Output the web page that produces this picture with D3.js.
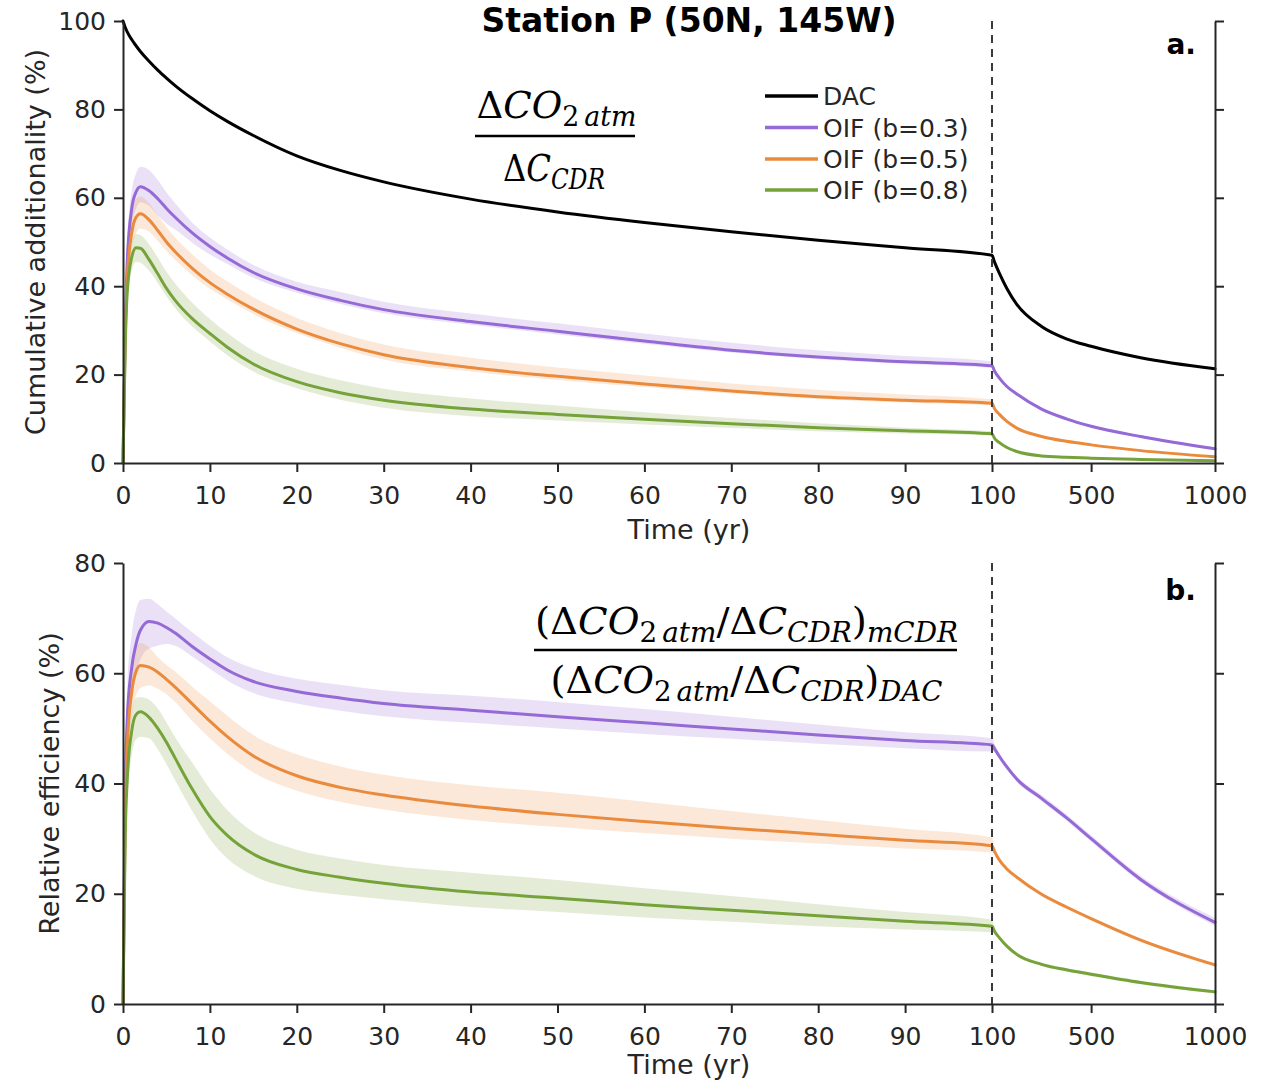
<!DOCTYPE html>
<html>
<head>
<meta charset="utf-8">
<script src="https://cdn.jsdelivr.net/npm/d3@7"></script>
<style>
  html, body { margin: 0; padding: 0; background: #fff; }
  svg { display: block; }
</style>
</head>
<body>
<svg id="chart" width="1263" height="1081"></svg>
<script>
// Time axis (years): dense at the start, linear to 100 yr, then a compressed 100–1000 yr segment
const years = [0, 0.25, 0.5, 1, 1.5, 2, 3, 4, 5, 6, 8, 10, 12, 15, 20, 25, 30, 40, 50, 60, 70, 80, 90, 100, 110, 130, 160, 200, 300, 400, 500, 700, 1000];
const xTickValues = [0, 10, 20, 30, 40, 50, 60, 70, 80, 90, 100, 500, 1000];
const yTicksA = [0, 20, 40, 60, 80, 100];
const yTicksB = [0, 20, 40, 60, 80];
const seriesNames = ["DAC", "OIF (b=0.3)", "OIF (b=0.5)", "OIF (b=0.8)"];

// Panel a: cumulative additionality (%)
const dacA = [100, 98.6, 97.5, 95.8, 94.4, 93.1, 90.9, 88.9, 87.1, 85.4, 82.4, 79.7, 77.3, 74.1, 69.5, 66.2, 63.6, 59.7, 56.8, 54.4, 52.3, 50.4, 48.7, 47.0, 45.5, 42.9, 39.5, 35.9, 30.9, 28.1, 26.4, 23.8, 21.3];

const oif03A   = [0, 30, 46, 57.5, 61.3, 62.5, 61.6, 59.8, 57.6, 55.6, 52.0, 49.0, 46.4, 43.1, 39.4, 36.8, 34.7, 32.0, 29.8, 27.6, 25.5, 24.0, 22.9, 22.0, 20.8, 19.2, 17.3, 15.6, 12.2, 10.0, 8.3, 6.0, 3.2];
const oif03ALo = [0, 27, 42, 53.5, 57.5, 59, 58.2, 56, 54.2, 52.8, 49.8, 47.2, 45, 41.9, 38.5, 36.0, 33.9, 31.3, 29.1, 27.0, 25.0, 23.5, 22.4, 21.5, 20.4, 18.9, 17.0, 15.3, 11.9, 9.7, 8.0, 5.7, 2.9];
const oif03AHi = [0, 33, 50, 61.5, 65.5, 67, 66.3, 64, 61.2, 58.8, 54.3, 51, 48.3, 44.8, 41.0, 38.7, 36.5, 33.8, 31.6, 29.3, 27.2, 25.5, 24.2, 23.0, 21.5, 19.7, 17.7, 16.0, 12.6, 10.3, 8.6, 6.3, 3.5];

const oif05A   = [0, 28, 42, 52, 55.6, 56.4, 55.0, 52.6, 50.0, 47.8, 44.0, 40.8, 38.2, 34.8, 30.3, 27.0, 24.5, 21.6, 19.6, 17.9, 16.3, 15.0, 14.2, 13.5, 12.3, 11.0, 9.4, 7.9, 6.0, 4.9, 4.1, 2.8, 1.4];
const oif05ALo = [0, 25.5, 39, 48.5, 52, 53, 52.3, 50.3, 48, 46, 42.4, 39.4, 37.0, 33.7, 29.4, 26.1, 23.4, 20.7, 18.8, 17.2, 15.7, 14.5, 13.7, 13.0, 11.9, 10.7, 9.1, 7.6, 5.8, 4.7, 3.9, 2.6, 1.2];
const oif05AHi = [0, 31, 46, 56.5, 59.8, 60.3, 58.8, 56, 53.4, 51, 47.2, 43.8, 41.1, 37.5, 32.8, 29.4, 26.8, 23.8, 21.6, 19.8, 18.0, 16.6, 15.5, 14.4, 12.9, 11.4, 9.8, 8.2, 6.3, 5.2, 4.3, 3.0, 1.6];

const oif08A   = [0, 26, 39, 46.5, 48.7, 48.6, 46.0, 42.8, 39.5, 36.8, 32.6, 29.3, 26.2, 22.4, 18.4, 15.9, 14.2, 12.2, 11.0, 9.9, 8.9, 8.0, 7.3, 6.6, 5.6, 4.6, 3.5, 2.6, 1.6, 1.3, 1.1, 0.8, 0.5];
const oif08ALo = [0, 24, 36.5, 43.5, 45.5, 45.3, 43.5, 40.7, 37.7, 35.0, 30.8, 27.5, 24.4, 20.7, 16.9, 14.3, 12.5, 10.6, 9.6, 8.7, 7.9, 7.2, 6.7, 6.2, 5.3, 4.4, 3.3, 2.4, 1.4, 1.1, 0.9, 0.6, 0.3];
const oif08AHi = [0, 28.5, 42, 50, 51.8, 51.6, 49.5, 46.5, 43.3, 40.6, 36.2, 32.6, 29.4, 25.4, 21.3, 18.7, 16.8, 14.6, 13.0, 11.5, 10.2, 9.0, 8.0, 7.2, 6.0, 4.9, 3.8, 2.8, 1.8, 1.5, 1.3, 1.0, 0.7];

// Panel b: efficiency relative to DAC (%)
const oif03B   = [0, 38, 52, 61, 65.3, 67.8, 69.4, 69.1, 68.3, 67.3, 64.8, 62.6, 60.6, 58.5, 56.7, 55.5, 54.5, 53.3, 52.1, 51.0, 49.9, 48.8, 47.8, 47.0, 46.3, 44.9, 43.0, 40.8, 37.3, 33.8, 30.0, 22.6, 14.8];
const oif03BLo = [0, 34, 47, 56, 60, 62.5, 64.5, 65, 65.3, 65, 63, 60.8, 58.7, 56.4, 54.5, 53.2, 52.2, 51.0, 50.0, 49.0, 48.1, 47.2, 46.4, 45.8, 45.8, 44.4, 42.5, 40.3, 36.8, 33.3, 29.5, 22.1, 14.2];
const oif03BHi = [0, 42, 58, 67, 71.5, 73.3, 73.5, 72.5, 71.2, 70.0, 67.4, 65.0, 62.9, 60.9, 59.0, 57.9, 56.9, 55.9, 54.8, 53.5, 52.1, 50.7, 49.3, 48.2, 47.2, 45.5, 43.5, 41.3, 37.9, 34.4, 30.6, 23.2, 15.6];

const oif05B   = [0, 34, 47, 56.5, 60.3, 61.4, 61.1, 60.2, 58.9, 57.5, 54.4, 51.3, 48.5, 45.0, 41.4, 39.3, 37.9, 35.9, 34.4, 33.1, 31.9, 30.8, 29.7, 28.7, 27.7, 26.1, 24.5, 23.0, 19.9, 17.6, 15.5, 11.6, 7.1];
const oif05BLo = [0, 31, 43, 52, 56, 57.3, 57.8, 57.2, 56.2, 54.8, 51.3, 48.2, 45.4, 42.0, 38.7, 36.7, 35.3, 33.4, 32.1, 31.0, 30.0, 29.1, 28.2, 27.5, 27.2, 25.8, 24.2, 22.7, 19.6, 17.3, 15.2, 11.3, 6.8];
const oif05BHi = [0, 37, 52, 62, 65, 65.5, 64.7, 62.9, 61.5, 60.3, 57.5, 54.9, 52.3, 48.8, 45.3, 43.1, 41.6, 39.7, 38.3, 36.7, 35.0, 33.4, 31.8, 30.2, 28.4, 26.5, 24.8, 23.3, 20.2, 17.9, 15.8, 11.9, 7.4];

const oif08B   = [0, 30, 41, 49.5, 52.5, 53.0, 52.0, 50.0, 47.5, 44.6, 38.9, 34.0, 30.6, 27.2, 24.4, 23.0, 21.9, 20.3, 19.2, 18.0, 17.0, 16.0, 15.0, 14.1, 13.2, 12.0, 10.5, 9.0, 7.2, 6.2, 5.4, 3.9, 2.2];
const oif08BLo = [0, 27, 37, 45, 48, 48.5, 48.2, 46.2, 43.5, 40.6, 34.9, 29.9, 26.4, 23.3, 20.9, 19.8, 19.0, 17.6, 16.7, 15.7, 14.9, 14.1, 13.5, 13.0, 12.8, 11.7, 10.2, 8.7, 6.9, 5.9, 5.1, 3.6, 1.9];
const oif08BHi = [0, 33, 45, 53, 55.5, 55.7, 55.2, 53.6, 51.1, 48.4, 43.7, 39.0, 35.2, 31.2, 28.0, 26.4, 25.2, 23.8, 22.5, 21.0, 19.6, 18.1, 16.7, 15.3, 13.8, 12.3, 10.8, 9.3, 7.5, 6.5, 5.7, 4.2, 2.5];

// ---- styling ----
const COLORS = { dac: "#000000", b03: "#9569d6", b05: "#ea8a3d", b08: "#76a23a" };
const AXIS_COLOR = "#262626";
const SANS = "DejaVu Sans, Verdana, sans-serif";
const SERIF = "DejaVu Serif, serif";

const svg = d3.select("#chart");

// piecewise-linear time scale: 0–100 yr wide, 100–1000 yr narrow
const x = d3.scaleLinear().domain([0, 100, 1000]).range([123, 992, 1215]);
const yA = d3.scaleLinear().domain([0, 100]).range([463, 21]);
const yB = d3.scaleLinear().domain([0, 80]).range([1004, 563]);

function drawPanel(y, ticks, bands, lines, xLabelY, yLabel, yLabelX) {
  const g = svg.append("g");
  const [y0, y1] = y.range();

  // uncertainty bands
  bands.forEach(b => {
    const area = d3.area()
      .x((d, i) => x(years[i]))
      .y0((d, i) => y(b.lo[i]))
      .y1((d, i) => y(b.hi[i]))
      .curve(d3.curveMonotoneX);
    g.append("path").datum(b.lo).attr("d", area)
      .attr("fill", b.color).attr("fill-opacity", 0.2).attr("stroke", "none");
  });

  // central lines
  lines.forEach(l => {
    const line = d3.line()
      .x((d, i) => x(years[i]))
      .y(d => y(d))
      .curve(d3.curveMonotoneX);
    g.append("path").datum(l.values).attr("d", line)
      .attr("fill", "none").attr("stroke", l.color)
      .attr("stroke-width", 3).attr("stroke-linejoin", "round").attr("stroke-linecap", "round");
  });

  // 100-yr marker
  g.append("line")
    .attr("x1", x(100)).attr("x2", x(100)).attr("y1", y1).attr("y2", y0)
    .attr("stroke", "#3a3a3a").attr("stroke-width", 2).attr("stroke-dasharray", "8,6");

  // axes
  const xAxis = d3.axisBottom(x).tickValues(xTickValues).tickFormat(d3.format("d"))
    .tickSize(9).tickSizeOuter(0).tickPadding(14);
  const yAxisL = d3.axisLeft(y).tickValues(ticks).tickFormat(d3.format("d"))
    .tickSize(9).tickSizeOuter(0).tickPadding(8);
  const yAxisR = d3.axisRight(y).tickValues(ticks).tickFormat("")
    .tickSize(9).tickSizeOuter(0);

  const gx = g.append("g").attr("transform", `translate(0,${y0})`).call(xAxis);
  const gl = g.append("g").attr("transform", `translate(${x.range()[0]},0)`).call(yAxisL);
  const gr = g.append("g").attr("transform", `translate(${x.range()[2]},0)`).call(yAxisR);
  [gx, gl, gr].forEach(a => {
    a.attr("font-family", SANS).attr("font-size", 25);
    a.selectAll("path, line").attr("stroke", AXIS_COLOR).attr("stroke-width", 2);
    a.selectAll("text").attr("fill", AXIS_COLOR);
  });

  // axis titles
  g.append("text").attr("x", 689).attr("y", xLabelY)
    .attr("text-anchor", "middle").attr("font-family", SANS).attr("font-size", 27)
    .attr("fill", AXIS_COLOR).text("Time (yr)");
  const yMid = (y0 + y1) / 2;
  g.append("text")
    .attr("transform", `translate(${yLabelX},${yMid}) rotate(-90)`)
    .attr("text-anchor", "middle").attr("font-family", SANS).attr("font-size", 27)
    .attr("fill", AXIS_COLOR).text(yLabel);
  return g;
}

drawPanel(yA, yTicksA,
  [
    { lo: oif03ALo, hi: oif03AHi, color: COLORS.b03 },
    { lo: oif05ALo, hi: oif05AHi, color: COLORS.b05 },
    { lo: oif08ALo, hi: oif08AHi, color: COLORS.b08 }
  ],
  [
    { values: dacA, color: COLORS.dac },
    { values: oif03A, color: COLORS.b03 },
    { values: oif05A, color: COLORS.b05 },
    { values: oif08A, color: COLORS.b08 }
  ],
  539, "Cumulative additionality (%)", 45);

drawPanel(yB, yTicksB,
  [
    { lo: oif03BLo, hi: oif03BHi, color: COLORS.b03 },
    { lo: oif05BLo, hi: oif05BHi, color: COLORS.b05 },
    { lo: oif08BLo, hi: oif08BHi, color: COLORS.b08 }
  ],
  [
    { values: oif03B, color: COLORS.b03 },
    { values: oif05B, color: COLORS.b05 },
    { values: oif08B, color: COLORS.b08 }
  ],
  1074, "Relative efficiency (%)", 59);

// title and panel tags
svg.append("text").attr("x", 689).attr("y", 32).attr("text-anchor", "middle")
  .attr("font-family", SANS).attr("font-weight", "bold").attr("font-size", 33)
  .attr("fill", "#000").text("Station P (50N, 145W)");
svg.append("text").attr("x", 1196).attr("y", 54).attr("text-anchor", "end")
  .attr("font-family", SANS).attr("font-weight", "bold").attr("font-size", 28)
  .attr("fill", "#000").text("a.");
svg.append("text").attr("x", 1196).attr("y", 600).attr("text-anchor", "end")
  .attr("font-family", SANS).attr("font-weight", "bold").attr("font-size", 28)
  .attr("fill", "#000").text("b.");

// legend
const legendColors = [COLORS.dac, COLORS.b03, COLORS.b05, COLORS.b08];
const legendY = [96, 127.5, 159, 190];
const lg = svg.append("g");
seriesNames.forEach((name, i) => {
  lg.append("line").attr("x1", 765).attr("x2", 818).attr("y1", legendY[i]).attr("y2", legendY[i])
    .attr("stroke", legendColors[i]).attr("stroke-width", 3.5);
  lg.append("text").attr("x", 823).attr("y", legendY[i]).attr("dy", "0.36em")
    .attr("font-family", SANS).attr("font-size", 25).attr("fill", AXIS_COLOR).text(name);
});

// inline math: pieces of {t, it, sub, gap}
function mathLine(cx, base, size, width, pieces) {
  const t = svg.append("text").attr("x", 0).attr("y", base)
    .attr("font-family", SERIF).attr("font-size", size).attr("fill", "#000");
  pieces.forEach(p => {
    const s = t.append("tspan")
      .attr("y", p.sub ? base + size * 0.2 : base)
      .attr("font-size", p.sub ? size * 0.72 : size)
      .attr("font-style", p.it ? "italic" : "normal")
      .text(p.t);
    if (p.gap) s.attr("dx", p.gap);
  });
  const w = t.node().getComputedTextLength();
  t.attr("transform", `translate(${cx - width / 2},0) scale(${width / w},1)`);
}
function fractionBar(x1, x2, yy) {
  svg.append("line").attr("x1", x1).attr("x2", x2).attr("y1", yy).attr("y2", yy)
    .attr("stroke", "#000").attr("stroke-width", 2.5);
}
const co2atm = [
  { t: "Δ" }, { t: "CO", it: true }, { t: "2", sub: true }, { t: "atm", it: true, sub: true, gap: 5 }
];
const dCcdr = [{ t: "Δ" }, { t: "C", it: true }, { t: "CDR", it: true, sub: true }];

// panel a expression
mathLine(554, 118, 38, 155, co2atm);
fractionBar(475, 635, 136);
mathLine(554, 181, 38, 102, dCcdr);

// panel b expression
mathLine(744, 634, 38, 418,
  [{ t: "(" }].concat(co2atm, [{ t: "/" }], dCcdr, [{ t: ")" }, { t: "mCDR", it: true, sub: true }]));
fractionBar(534, 957, 650);
mathLine(744, 693, 38, 387,
  [{ t: "(" }].concat(co2atm, [{ t: "/" }], dCcdr, [{ t: ")" }, { t: "DAC", it: true, sub: true }]));
</script>
</body>
</html>
